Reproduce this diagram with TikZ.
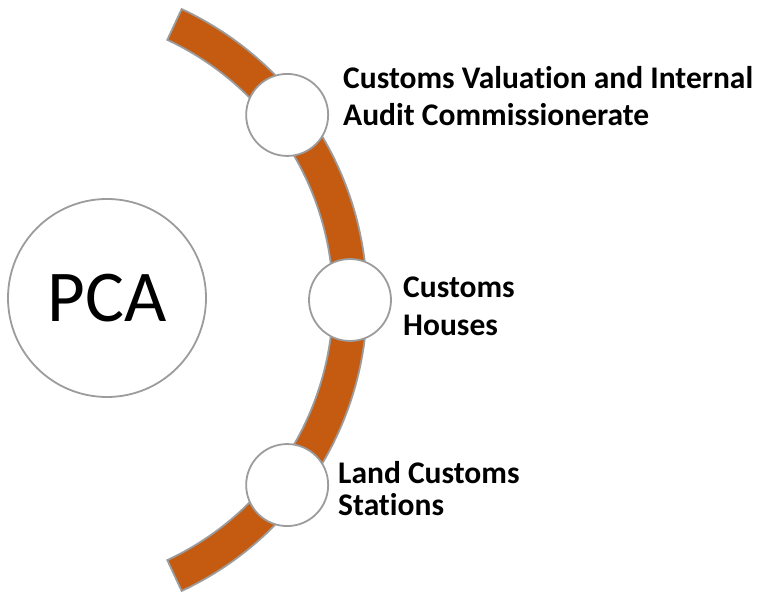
\documentclass[tikz,border=0pt]{standalone}
\usepackage{fontspec}
\setmainfont{Carlito}[Ligatures=NoCommon]
\usetikzlibrary{calc}
\definecolor{bandorange}{HTML}{C55A11}
\definecolor{edgegray}{HTML}{9C9C9C}
\begin{document}
\begin{tikzpicture}[x=1bp,y=1bp,
  band/.style={fill=bandorange, draw=edgegray, line width=1.8bp},
  station/.style={circle, fill=white, draw=edgegray, line width=1.8bp, minimum size=82bp, inner sep=0pt},
  hub/.style={circle, fill=white, draw=edgegray, line width=1.8bp, minimum size=198bp, inner sep=0pt, font=\fontsize{73bp}{80bp}\selectfont},
  unitlabel/.style={anchor=base west, align=left, inner sep=0pt, font=\bfseries\fontsize{31.5bp}{37bp}\selectfont}]
\useasboundingbox (0,0) rectangle (760,595);
\coordinate (C) at (46,295);
\draw[band] ($(C)+(65:321)$) arc[start angle=65,end angle=-65,radius=321] -- ($(C)+(-65:287)$) arc[start angle=-65,end angle=65,radius=287] -- cycle;
\node[hub] (pca) at (107,297) {PCA};
\node[station] (s1) at ($(C)+(37.5:304)$) {};
\node[station] (s2) at ($(C)+(0:304)$) {};
\node[station] (s3) at ($(C)+(-37.5:304)$) {};
\node[unitlabel] (t1) at (343,469) {Customs Valuation and Internal\\Audit Commissionerate};
\node[unitlabel, font=\bfseries\fontsize{31.5bp}{38bp}\selectfont] (t2) at (403,259) {Customs\\Houses};
\node[unitlabel, font=\bfseries\fontsize{31.5bp}{32bp}\selectfont] (t3) at (338,79) {Land Customs\\Stations};
\end{tikzpicture}
\end{document}
